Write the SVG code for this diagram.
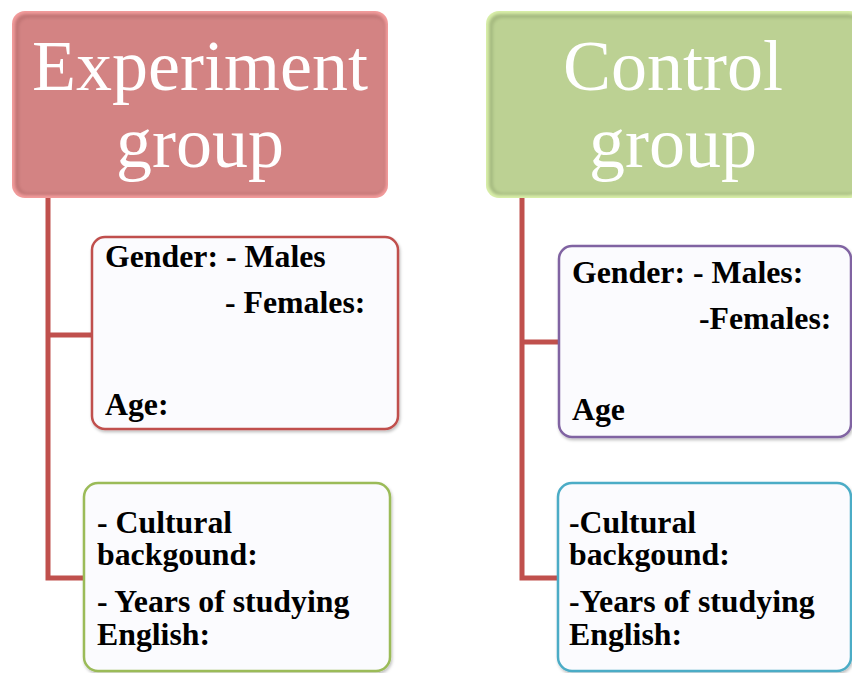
<svg xmlns="http://www.w3.org/2000/svg" width="852" height="673" viewBox="0 0 852 673">
<defs>
<filter id="soft" x="-5%" y="-5%" width="110%" height="110%"><feGaussianBlur stdDeviation="1.5"/></filter>
<filter id="sh" x="-5%" y="-5%" width="115%" height="115%"><feDropShadow dx="1" dy="2" stdDeviation="1.5" flood-color="#000" flood-opacity="0.25"/></filter>
</defs>
<style>
.head{font-family:"Liberation Serif","Times New Roman",serif;font-size:72px;fill:#ffffff;text-anchor:middle}
.t{font-family:"Liberation Serif","Times New Roman",serif;font-size:31.8px;font-weight:bold;fill:#000000}
.box{fill:#FBFBFE;stroke-width:2.5}
.conn{fill:none;stroke:#C0504D;stroke-width:5;stroke-linejoin:miter}
</style>
<g id="connectors">
<path class="conn" d="M48 198 V578 H86 M48 335 H93"/>
<path class="conn" d="M522 198 V578 H559 M522 342 H560"/>
</g>
<g id="experiment-group">
<rect x="12" y="11" width="376" height="187" rx="13" fill="#F29B9B"/>
<rect x="15" y="14" width="370" height="181" rx="11" fill="#C17575" filter="url(#soft)"/>
<rect x="19" y="18" width="366" height="175" rx="9" fill="#D38383" filter="url(#soft)"/>
<text class="head" x="200" y="90">Experiment</text>
<text class="head" x="200" y="167">group</text>
</g>
<g id="control-group">
<rect x="486" y="11" width="376" height="187" rx="13" fill="#D8EEA8"/>
<rect x="489" y="14" width="370" height="181" rx="11" fill="#A5BA80" filter="url(#soft)"/>
<rect x="493" y="18" width="366" height="175" rx="9" fill="#BCD193" filter="url(#soft)"/>
<text class="head" x="673" y="90">Control</text>
<text class="head" x="673" y="167">group</text>
</g>
<g id="exp-gender-age">
<rect class="box" x="92" y="237" width="306" height="192" rx="13" stroke="#C0504D" filter="url(#sh)"/>
<text class="t" x="105" y="267">Gender: - Males</text>
<text class="t" x="225" y="313">- Females:</text>
<text class="t" x="105" y="415">Age:</text>
</g>
<g id="exp-background">
<rect class="box" x="84" y="483" width="306" height="188" rx="14" stroke="#9BBB59" filter="url(#sh)"/>
<text class="t" x="97" y="533">- Cultural</text>
<text class="t" x="97" y="565">backgound:</text>
<text class="t" x="97" y="612">- Years of studying</text>
<text class="t" x="97" y="645">English:</text>
</g>
<g id="ctrl-gender-age">
<rect class="box" x="559" y="246" width="292" height="191" rx="13" stroke="#8064A2" filter="url(#sh)"/>
<text class="t" x="572" y="283">Gender: - Males:</text>
<text class="t" x="699" y="329">-Females:</text>
<text class="t" x="572" y="420">Age</text>
</g>
<g id="ctrl-background">
<rect class="box" x="558" y="483" width="293" height="188" rx="14" stroke="#4BACC6" filter="url(#sh)"/>
<text class="t" x="569" y="533">-Cultural</text>
<text class="t" x="569" y="565">backgound:</text>
<text class="t" x="569" y="612">-Years of studying</text>
<text class="t" x="569" y="645">English:</text>
</g>
</svg>
